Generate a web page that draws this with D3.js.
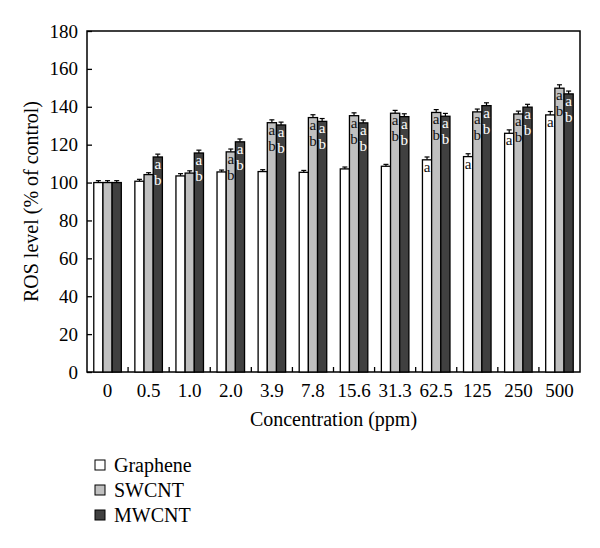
<!DOCTYPE html>
<html>
<head>
<meta charset="utf-8">
<script src="https://cdn.jsdelivr.net/npm/d3@7"></script>
<style>
  html, body { margin: 0; padding: 0; background: #fff; }
  svg { display: block; font-family: "Liberation Serif", "DejaVu Serif", serif; }
</style>
</head>
<body>
<svg id="chart" width="600" height="548"></svg>
<script>
const categories = ["0", "0.5", "1.0", "2.0", "3.9", "7.8", "15.6", "31.3", "62.5", "125", "250", "500"];
const seriesNames = ["Graphene", "SWCNT", "MWCNT"];
const graphene = [100, 100.7, 103.5, 105.6, 105.8, 105.4, 107.2, 108.6, 112, 113.7, 126, 135.7];
const swcnt    = [100, 104.2, 105, 116.2, 131.6, 134.3, 135.3, 136.6, 137, 137.3, 136.2, 149.8];
const mwcnt    = [100, 113.5, 115.6, 121.5, 130.4, 132.3, 131.5, 134.8, 135, 140.6, 139.8, 146.8];
const gErr = [1.0, 1.0, 1.2, 1.0, 1.0, 1.0, 1.0, 1.0, 1.5, 1.5, 1.8, 1.8];
const sErr = [1.0, 1.0, 1.2, 1.5, 1.5, 1.5, 1.5, 1.5, 1.5, 1.5, 1.5, 1.8];
const mErr = [1.0, 1.5, 1.5, 1.5, 1.5, 1.5, 1.5, 1.5, 1.5, 1.5, 1.5, 1.5];
// significance letters per category (top to bottom)
const gLetters = ["", "", "", "", "", "", "", "", "a", "a", "a", "a"];
const sLetters = ["", "", "", "ab", "ab", "ab", "ab", "ab", "ab", "ab", "ab", "ab"];
const mLetters = ["", "ab", "ab", "ab", "ab", "ab", "ab", "ab", "ab", "ab", "ab", "ab"];
const yTicks = [0, 20, 40, 60, 80, 100, 120, 140, 160, 180];
const fills = ["#ffffff", "#c0c0c0", "#404040"];

const series = [
  {name: seriesNames[0], values: graphene, err: gErr, letters: gLetters},
  {name: seriesNames[1], values: swcnt, err: sErr, letters: sLetters},
  {name: seriesNames[2], values: mwcnt, err: mErr, letters: mLetters}
];

const svg = d3.select("#chart");
const L = 87, R = 580, T = 31, B = 372;
const FONT = "Liberation Serif, serif";

const x0 = d3.scaleBand().domain(categories).range([L, R]).paddingInner(0.33).paddingOuter(0.165);
const x1 = d3.scaleBand().domain(d3.range(3)).range([0, x0.bandwidth()]);
const y = d3.scaleLinear().domain([0, 180]).range([B, T]);

// frame
svg.append("rect").attr("x", L).attr("y", T).attr("width", R - L).attr("height", B - T)
  .attr("fill", "none").attr("stroke", "#000").attr("stroke-width", 1.5);

// bars
const groups = svg.append("g").selectAll("g").data(categories).join("g")
  .attr("transform", d => `translate(${x0(d)},0)`);

series.forEach((s, si) => {
  groups.each(function(cat, ci) {
    const g = d3.select(this);
    const v = s.values[ci], e = s.err[ci];
    const bx = x1(si), bw = x1.bandwidth();
    const cx = bx + bw / 2;
    g.append("line").attr("x1", cx).attr("x2", cx).attr("y1", y(v)).attr("y2", y(v + e))
      .attr("stroke", "#000").attr("stroke-width", 1.2);
    g.append("line").attr("x1", cx - 2.5).attr("x2", cx + 2.5).attr("y1", y(v + e)).attr("y2", y(v + e))
      .attr("stroke", "#000").attr("stroke-width", 1.2);
    g.append("rect").attr("x", bx).attr("y", y(v)).attr("width", bw).attr("height", y(0) - y(v))
      .attr("fill", fills[si]).attr("stroke", "#000").attr("stroke-width", 1.3);
  });
});

// significance letters drawn on top (in a group with opacity to get grayscale antialiasing)
const sigLayer = svg.append("g").attr("opacity", 0.999);
series.forEach((s, si) => {
  categories.forEach((cat, ci) => {
    const v = s.values[ci];
    const cx = x0(cat) + x1(si) + x1.bandwidth() / 2;
    s.letters[ci].split("").forEach((ch, li) => {
      sigLayer.append("text").attr("x", cx).attr("y", y(v) + 12 + li * 16)
        .attr("text-anchor", "middle").attr("font-size", 15).attr("font-family", FONT)
        .attr("fill", si === 2 ? "#fff" : "#111").text(ch);
    });
  });
});

// y axis
const yAxis = d3.axisLeft(y).tickValues(yTicks).tickSizeInner(-5).tickSizeOuter(0).tickPadding(9);
const yg = svg.append("g").attr("transform", `translate(${L},0)`).call(yAxis);
yg.select(".domain").remove();
yg.selectAll("line").attr("stroke", "#000").attr("stroke-width", 1.3);
yg.selectAll("text").attr("font-size", 19).attr("font-family", FONT).attr("fill", "#000");

// x axis labels
const xAxis = d3.axisBottom(x0).tickSize(0).tickPadding(12);
const xg = svg.append("g").attr("transform", `translate(0,${B})`).call(xAxis);
xg.select(".domain").remove();
xg.selectAll("text").attr("font-size", 19).attr("font-family", FONT).attr("fill", "#000");

// x separator ticks (between groups, inward)
const step = x0.step();
svg.append("g").selectAll("line").data(categories.slice(1)).join("line")
  .attr("x1", d => x0(d) - x0.paddingInner() * step / 2)
  .attr("x2", d => x0(d) - x0.paddingInner() * step / 2)
  .attr("y1", B).attr("y2", B - 5).attr("stroke", "#000").attr("stroke-width", 1.3);

// axis titles
svg.append("text").attr("x", (L + R) / 2).attr("y", 426).attr("text-anchor", "middle")
  .attr("font-size", 20).attr("font-family", FONT).text("Concentration (ppm)");
svg.append("text").attr("transform", `translate(38,${(T + B) / 2}) rotate(-90)`)
  .attr("text-anchor", "middle").attr("font-size", 20).attr("font-family", FONT).text("ROS level (% of control)");

// legend
const leg = svg.append("g").selectAll("g").data(series).join("g")
  .attr("transform", (d, i) => `translate(95,${465 + i * 25})`);
leg.append("rect").attr("x", 0).attr("y", -5).attr("width", 10).attr("height", 10)
  .attr("fill", (d, i) => fills[i]).attr("stroke", "#000").attr("stroke-width", 1);
leg.append("text").attr("x", 19).attr("y", 7).attr("font-size", 20).attr("font-family", FONT).text(d => d.name);
</script>
</body>
</html>
